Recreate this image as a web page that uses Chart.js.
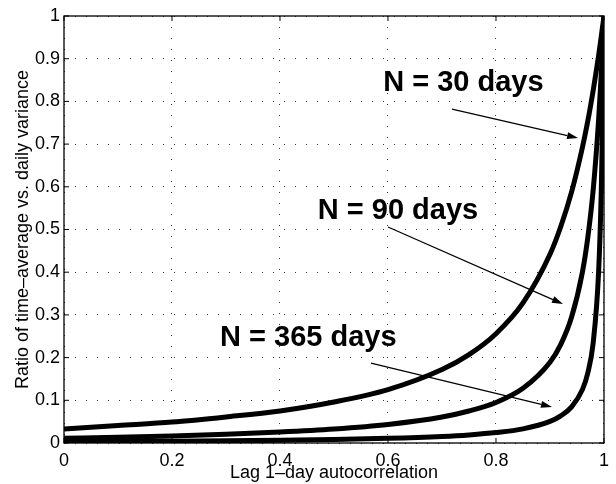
<!DOCTYPE html>
<html>
<head>
<meta charset="utf-8">
<script src="https://cdn.jsdelivr.net/npm/chart.js@4.4.0/dist/chart.umd.min.js"></script>
<style>
  html, body { margin: 0; padding: 0; background: #fff; }
  #wrap { width: 616px; height: 484px; }
</style>
</head>
<body>
<div id="wrap"><canvas id="c" width="616" height="484"></canvas></div>
<script>
// lag-1 autocorrelation (x) and variance ratio
var rVals = [0, 0.1, 0.2, 0.3, 0.4, 0.5, 0.6, 0.7, 0.75, 0.8, 0.85, 0.9, 0.92, 0.94, 0.96, 0.97, 0.98, 0.99, 0.995, 0.998, 0.999, 1];
var n30  = [0.033, 0.041, 0.049, 0.061, 0.075, 0.096, 0.125, 0.172, 0.207, 0.256, 0.328, 0.442, 0.507, 0.588, 0.692, 0.754, 0.826, 0.907, 0.953, 0.981, 0.99, 1];
var n90  = [0.011, 0.0135, 0.0166, 0.0205, 0.0257, 0.0328, 0.0435, 0.061, 0.075, 0.095, 0.128, 0.189, 0.231, 0.295, 0.400, 0.481, 0.593, 0.756, 0.865, 0.941, 0.97, 1];
var n365 = [0.0027, 0.0033, 0.0041, 0.0051, 0.0064, 0.0082, 0.0109, 0.0154, 0.019, 0.0244, 0.0332, 0.0507, 0.0636, 0.0847, 0.125, 0.164, 0.235, 0.400, 0.592, 0.795, 0.889, 1];
var seriesLabels = ["N = 30 days", "N = 90 days", "N = 365 days"];

var xTitle = "Lag 1\u2013day autocorrelation";
var yTitle = "Ratio of time\u2013average vs. daily variance";

function pts(ys) {
    return rVals.map(function(r, i) { return {x: r, y: ys[i]}; });
}

var font = "'Liberation Sans', Arial, Helvetica, sans-serif";

// text + arrow labels, in data units
var notes = [
    {text: seriesLabels[0], tx: 0.591, ty: 0.824, from: [0.7185, 0.782], to: [0.952, 0.714]},
    {text: seriesLabels[1], tx: 0.470, ty: 0.5246, from: [0.600, 0.506], to: [0.924, 0.3255]},
    {text: seriesLabels[2], tx: 0.289, ty: 0.227, from: [0.5685, 0.187], to: [0.9037, 0.0843]}
];

var decor = {
    id: 'decor',
    afterDatasetsDraw: function(chart) {
        var ctx = chart.ctx, a = chart.chartArea;
        var xs = chart.scales.x, ys = chart.scales.y;
        ctx.save();
        // frame
        ctx.strokeStyle = '#000';
        ctx.lineWidth = 1.3;
        ctx.strokeRect(a.left, a.top, a.right - a.left, a.bottom - a.top);
        // inward ticks
        ctx.lineWidth = 1;
        ctx.beginPath();
        xs.ticks.forEach(function(t) {
            var p = xs.getPixelForValue(t.value);
            ctx.moveTo(p, a.bottom); ctx.lineTo(p, a.bottom - 5);
            ctx.moveTo(p, a.top); ctx.lineTo(p, a.top + 5);
        });
        ys.ticks.forEach(function(t) {
            var p = ys.getPixelForValue(t.value);
            ctx.moveTo(a.left, p); ctx.lineTo(a.left + 5, p);
            ctx.moveTo(a.right, p); ctx.lineTo(a.right - 5, p);
        });
        ctx.stroke();
        // labels and arrows
        ctx.fillStyle = '#000';
        ctx.font = 'bold 29px ' + font;
        ctx.textAlign = 'left';
        ctx.textBaseline = 'alphabetic';
        notes.forEach(function(n) {
            ctx.fillText(n.text, xs.getPixelForValue(n.tx), ys.getPixelForValue(n.ty));
            var x1 = xs.getPixelForValue(n.from[0]), y1 = ys.getPixelForValue(n.from[1]);
            var x2 = xs.getPixelForValue(n.to[0]), y2 = ys.getPixelForValue(n.to[1]);
            var ang = Math.atan2(y2 - y1, x2 - x1);
            var hl = 11, hw = 3.5;
            var bx = x2 - hl * Math.cos(ang), by = y2 - hl * Math.sin(ang);
            ctx.lineWidth = 1.2;
            ctx.beginPath();
            ctx.moveTo(x1, y1); ctx.lineTo(bx, by);
            ctx.stroke();
            ctx.beginPath();
            ctx.moveTo(x2, y2);
            ctx.lineTo(bx + hw * Math.sin(ang), by - hw * Math.cos(ang));
            ctx.lineTo(bx - hw * Math.sin(ang), by + hw * Math.cos(ang));
            ctx.closePath();
            ctx.fill();
        });
        ctx.restore();
    }
};

function line(label, ys) {
    return {
        label: label,
        data: pts(ys),
        borderColor: '#000',
        backgroundColor: '#000',
        borderWidth: 5,
        pointRadius: 0,
        fill: false,
        cubicInterpolationMode: 'monotone'
    };
}

var chart = new Chart(document.getElementById('c'), {
    type: 'line',
    data: {
        datasets: [line(seriesLabels[0], n30), line(seriesLabels[1], n90), line(seriesLabels[2], n365)]
    },
    options: {
        responsive: false,
        animation: false,
        layout: { padding: { top: 16, right: 12, left: 0, bottom: 0 } },
        plugins: { legend: { display: false }, tooltip: { enabled: false } },
        scales: {
            x: {
                type: 'linear',
                min: 0, max: 1,
                ticks: {
                    stepSize: 0.2,
                    padding: 7,
                    color: '#000',
                    font: { family: font, size: 18 },
                    callback: function(v) { return Math.round(v * 10) / 10 + ''; }
                },
                grid: { color: '#333', lineWidth: 1, drawTicks: false },
                border: { display: false, dash: [1, 10] },
                title: {
                    display: true, text: xTitle, color: '#000',
                    font: { family: font, size: 18 },
                    padding: { top: 0, bottom: 0 }
                },
                afterFit: function(s) { s.height = 41; }
            },
            y: {
                min: 0, max: 1,
                ticks: {
                    stepSize: 0.1,
                    padding: 4,
                    color: '#000',
                    font: { family: font, size: 18 },
                    callback: function(v) { return Math.round(v * 10) / 10 + ''; }
                },
                grid: { color: '#333', lineWidth: 1, drawTicks: false },
                border: { display: false, dash: [1, 10] },
                title: {
                    display: true, text: yTitle, color: '#000',
                    font: { family: font, size: 18 },
                    padding: { top: 12, bottom: 0 }
                },
                afterFit: function(s) { s.width = 64; }
            }
        }
    },
    plugins: [decor]
});
</script>
</body>
</html>
